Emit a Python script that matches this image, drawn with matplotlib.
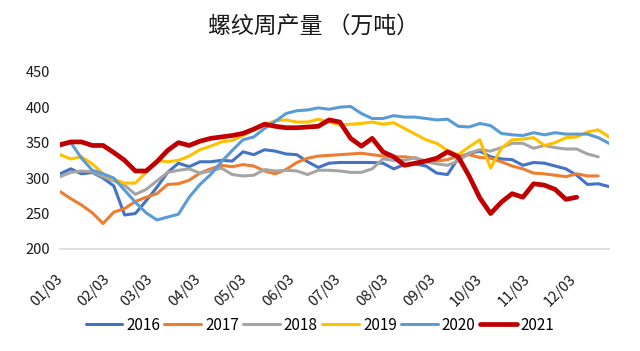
#!/usr/bin/env python3

import matplotlib
matplotlib.use("Agg")
import matplotlib.pyplot as plt
import numpy as np
import pandas as pd

plt.rcParams["font.family"] = ["Noto Sans CJK SC", "DejaVu Sans"]

# weekly output of rebar, 10k tonnes; one value per week from 01/03
years = ["2016", "2017", "2018", "2019", "2020", "2021"]
colors = ["#4472C4", "#ED7D31", "#A5A5A5", "#FFC000", "#5B9BD5", "#C00000"]

y2016 = [306, 313, 306, 308, 300, 289, 248, 250, 268, 287, 308, 321, 316, 323,
         323, 325, 324, 337, 333, 340, 338, 334, 333, 323, 315, 321, 322, 322,
         322, 322, 321, 313, 319, 320, 317, 307, 305, 328, 335, 338, 330, 327,
         326, 318, 322, 321, 317, 313, 304, 291, 292, 288]
y2017 = [281, 271, 262, 251, 236, 252, 257, 267, 273, 278, 291, 292, 297, 307,
         313, 318, 316, 319, 317, 310, 306, 312, 322, 328, 331, 332, 333, 334,
         335, 333, 331, 330, 330, 328, 324, 324, 326, 331, 333, 329, 328, 323,
         317, 313, 307, 306, 304, 302, 306, 303, 303]
y2018 = [302, 308, 310, 309, 302, 296, 290, 277, 284, 296, 308, 311, 313, 307,
         310, 314, 305, 303, 304, 312, 310, 311, 310, 305, 311, 311, 310, 308,
         308, 313, 327, 325, 325, 329, 323, 320, 318, 324, 335, 340, 338, 343,
         349, 349, 342, 346, 343, 341, 341, 334, 330]
y2019 = [333, 327, 330, 320, 306, 298, 293, 293, 308, 325, 323, 325, 331, 340,
         345, 351, 353, 360, 368, 375, 381, 382, 379, 379, 383, 379, 375, 376,
         377, 379, 376, 378, 370, 362, 354, 349, 339, 333, 344, 354, 314, 342,
         354, 355, 357, 346, 350, 357, 358, 365, 368, 358]
y2020 = [345, 350, 328, 311, 306, 300, 283, 266, 251, 241, 245, 249, 273, 291,
         305, 323, 339, 354, 358, 370, 380, 391, 395, 396, 399, 397, 400, 401,
         391, 384, 384, 388, 386, 386, 384, 382, 383, 373, 372, 377, 374, 363,
         361, 360, 364, 361, 364, 362, 362, 362, 357, 349]
y2021 = [347, 351, 351, 346, 346, 336, 325, 310, 310, 323, 339, 350, 346, 352,
         356, 358, 360, 363, 369, 376, 373, 371, 371, 372, 373, 382, 379, 356,
         345, 356, 337, 330, 318, 321, 324, 328, 337, 330, 303, 272, 250, 266,
         278, 273, 292, 290, 284, 270, 273]
series = [y2016, y2017, y2018, y2019, y2020, y2021]

month_labels = ["01/03", "02/03", "03/03", "04/03", "05/03", "06/03",
                "07/03", "08/03", "09/03", "10/03", "11/03", "12/03"]

# tick positions in weeks after 01/03
start = pd.Timestamp("2021-01-03")
tick_pos = [(pd.Timestamp("2021-" + m[:2] + "-03") - start).days / 7 for m in month_labels]

fig = plt.figure(figsize=(6.4, 3.51), dpi=100)
ax = fig.add_axes([60 / 640, 1 - 249 / 351, 549 / 640, (249 - 71.7) / 351])

for name, vals, c in zip(years, series, colors):
    lw = 3.4 if name == "2021" else 2.2
    ax.plot(np.arange(len(vals)), vals, color=c, lw=lw, label=name,
            solid_joinstyle="round", solid_capstyle="round")

ax.set_xlim(0, 51)
ax.set_ylim(200, 450)
ax.set_yticks(np.arange(200, 451, 50))
ax.set_xticks(tick_pos)
ax.set_xticklabels(month_labels, rotation=45, ha="right", va="center",
                   rotation_mode="anchor")
ax.tick_params(axis="x", length=0, pad=20, labelsize=10.5, colors="#1a1a1a")
ax.tick_params(axis="y", length=0, pad=7, labelsize=10.5, colors="#1a1a1a")

for s in ["top", "right", "left"]:
    ax.spines[s].set_visible(False)
ax.spines["bottom"].set_color("#D9D9D9")
ax.spines["bottom"].set_linewidth(1.2)

fig.text(0.49, 1 - 26 / 351, "螺纹周产量 （万吨）", ha="center", va="center",
         fontsize=16.5, color="#1a1a1a")

fig.legend(loc="center", bbox_to_anchor=(0.5, 1 - 325 / 351), ncol=6,
           frameon=False, fontsize=11, handlelength=2.4, handletextpad=0.25,
           columnspacing=0.3, borderaxespad=0)

fig.savefig("out.png", dpi=100)
plt.close(fig)
